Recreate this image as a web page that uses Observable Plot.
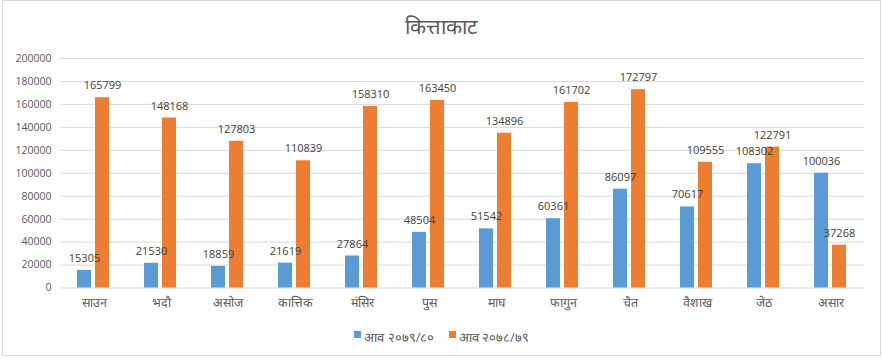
<!DOCTYPE html>
<html><head><meta charset="utf-8">
<script src="https://cdn.jsdelivr.net/npm/d3@7"></script>
<script src="https://cdn.jsdelivr.net/npm/@observablehq/plot@0.6"></script>
<style>
body{margin:0;background:#fff;font-family:"Open Sans",sans-serif;}
#wrap{position:relative;width:883px;height:361px;overflow:hidden;background:#fff}
#frame{position:absolute;left:2px;top:0;width:879px;height:356px;border:1px solid #d9d9d9;box-sizing:border-box}
#title{position:absolute;left:0;width:883px;top:12px;text-align:center;font-size:21px;color:#595959}
#chart{position:absolute;left:0;top:0}
#legend{position:absolute;left:0;width:883px;top:328px;display:flex;justify-content:center;gap:14px;font-size:13px;color:#595959}
#legend span.item{display:flex;align-items:center}
#legend i{display:inline-block;width:7px;height:7px;margin-right:3px;position:relative;top:-3px}
</style></head>
<body>
<div id="wrap">
<div id="frame"></div>
<div id="title"></div>
<div id="chart"></div>
<div id="legend"></div>
</div>
<script>
const titleText = "कित्ताकाट";
const months = ["साउन","भदौ","असोज","कात्तिक","मंसिर","पुस","माघ","फागुन","चैत","वैशाख","जेठ","असार"];
const seriesNames = ["आव २०७९/८०","आव २०७८/७९"];
const seriesColors = ["#5B9BD5","#ED7D31"];
const values2079 = [15305,21530,18859,21619,27864,48504,51542,60361,86097,70617,108302,100036];
const values2078 = [165799,148168,127803,110839,158310,163450,134896,161702,172797,109555,122791,37268];
const yTicks = [0,20000,40000,60000,80000,100000,120000,140000,160000,180000,200000];

document.getElementById("title").textContent = titleText;

const data = months.flatMap((m,i)=>[
  {month:m, series:seriesNames[0], value:values2079[i]},
  {month:m, series:seriesNames[1], value:values2078[i]}
]);

const chart = Plot.plot({
  width:883, height:320,
  marginLeft:55, marginRight:14, marginTop:58, marginBottom:32.5,
  style:{fontFamily:"'Open Sans',sans-serif", color:"#595959", background:"transparent"},
  fx:{domain:months, padding:0, label:null},
  x:{domain:seriesNames, paddingInner:0.21, paddingOuter:0.89, axis:null},
  y:{domain:[0,200000], label:null},
  color:{domain:seriesNames, range:seriesColors},
  marks:[
    Plot.ruleY(yTicks,{stroke:"#d9d9d9", strokeWidth:1}),
    Plot.barY(data,{fx:"month", x:"series", y:"value", fill:"series"}),
    Plot.text(data,{fx:"month", x:"series", y:"value", text:d=>String(d.value), dy:-12, fill:"#404040", fontSize:11}),
    Plot.axisY(yTicks,{tickSize:0, tickPadding:9, fontSize:10.5, label:null, tickFormat:d=>String(d)}),
    Plot.axisFx({anchor:"bottom", tickSize:0, tickPadding:10, fontSize:12.5, label:null})
  ]
});
document.getElementById("chart").appendChild(chart);

const leg = document.getElementById("legend");
seriesNames.forEach((s,i)=>{
  const it = document.createElement("span"); it.className="item";
  const sw = document.createElement("i"); sw.style.background = seriesColors[i];
  it.appendChild(sw);
  it.appendChild(document.createTextNode(s));
  leg.appendChild(it);
});
</script>
</body></html>
